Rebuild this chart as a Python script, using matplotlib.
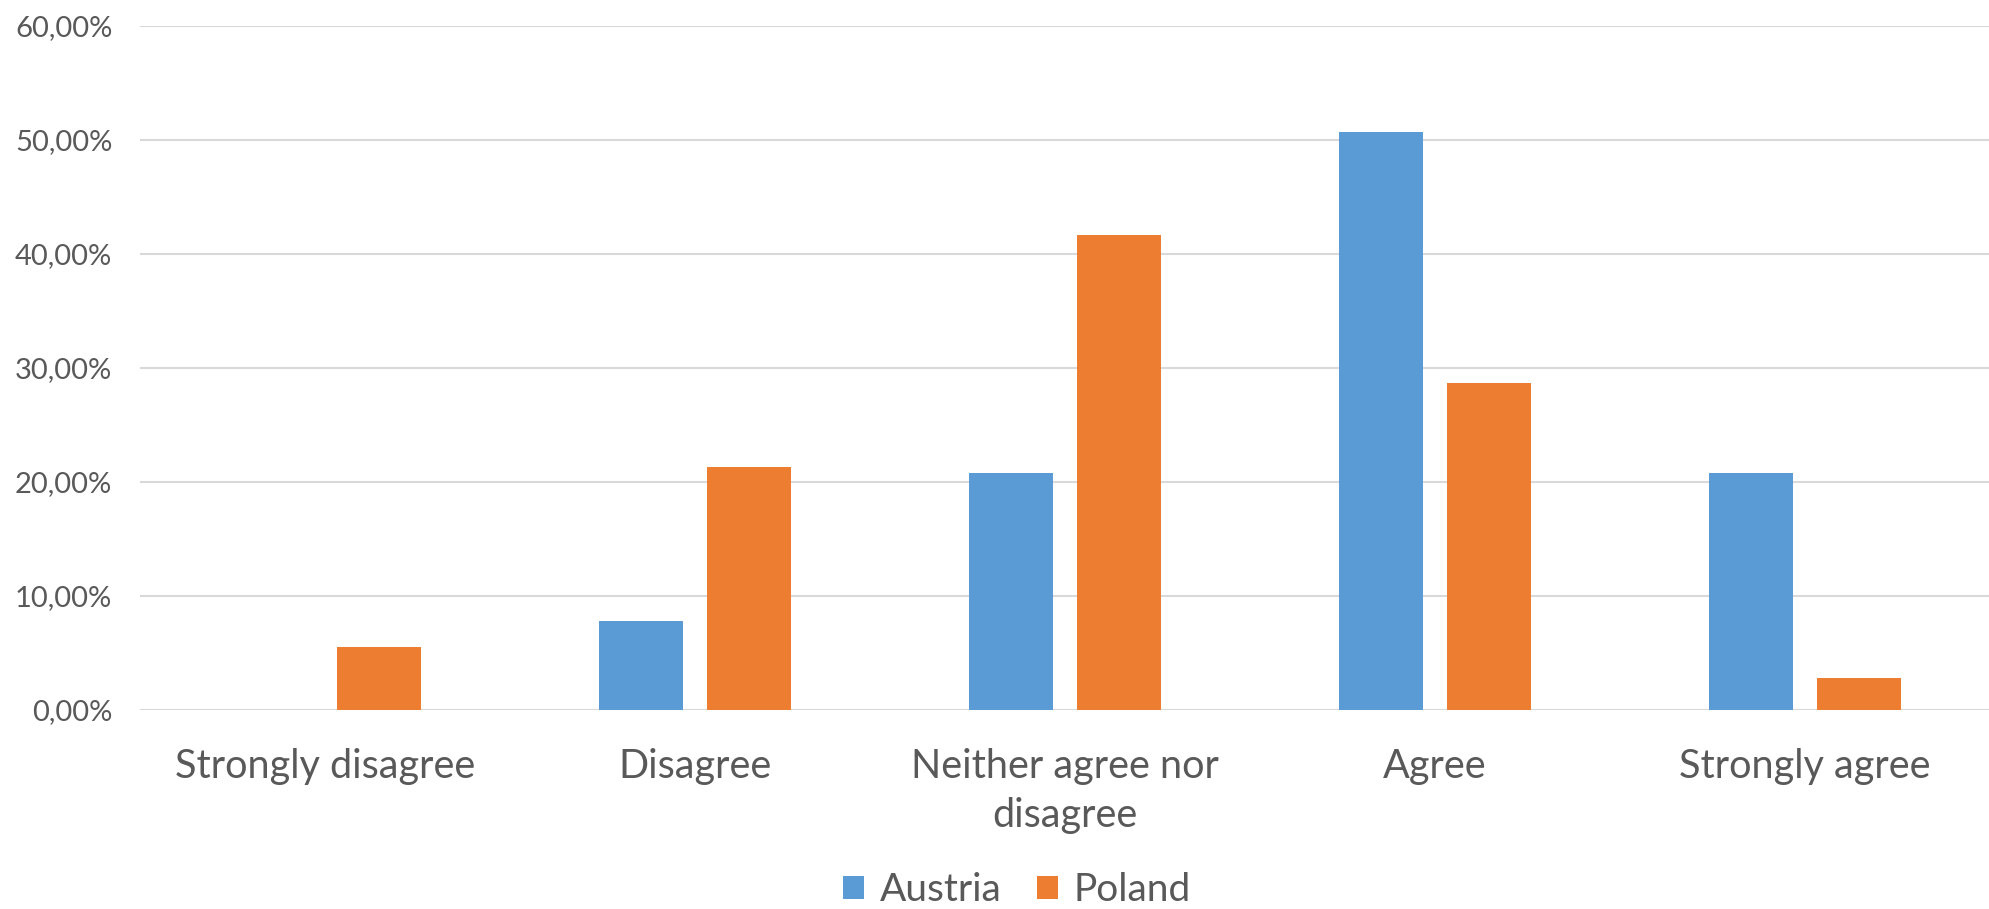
import numpy as np
import matplotlib.pyplot as plt
from matplotlib.ticker import FuncFormatter

# Datos
categories = ['Strongly disagree', 'Disagree', 'Neither agree nor\ndisagree', 'Agree', 'Strongly agree']
austria = [0.0, 7.79, 20.78, 50.65, 20.78]
poland = [5.56, 21.30, 41.67, 28.70, 2.78]
series_names = ['Austria', 'Poland']
colors = ['#5B9BD5', '#ED7D31']

plt.rcParams['font.family'] = ['Lato', 'DejaVu Sans']
text_color = '#595959'

fig = plt.figure(figsize=(19.9, 9.09), dpi=100)
ax = fig.add_axes([0.0704, 0.2189, 0.9296, 0.753])

x = np.arange(len(categories))
w = 0.227
off = 0.146
ax.bar(x - off, austria, w, color=colors[0], label=series_names[0], zorder=3)
ax.bar(x + off, poland, w, color=colors[1], label=series_names[1], zorder=3)

ax.set_xlim(-0.5, len(categories) - 0.5)
ax.set_ylim(0, 60)
ax.set_yticks(np.arange(0, 61, 10))
ax.yaxis.set_major_formatter(FuncFormatter(lambda v, p: f'{v:.2f}'.replace('.', ',') + '%'))
ax.grid(axis='y', color='#D9D9D9', linewidth=1.5, zorder=0)
ax.set_axisbelow(True)
for s in ax.spines.values():
    s.set_visible(False)

ax.set_xticks(x)
ax.set_xticklabels(categories, fontsize=28.5, color=text_color, linespacing=1.4)
ax.tick_params(axis='x', length=0, pad=27)
ax.tick_params(axis='y', length=0, pad=20, labelsize=21, labelcolor=text_color)

leg = ax.legend(loc='lower center', bbox_to_anchor=(0.474, -0.312), ncol=2, frameon=False,
                fontsize=28, handlelength=0.55, handleheight=0.55, handletextpad=0.4,
                columnspacing=0.9, borderaxespad=0)
for t in leg.get_texts():
    t.set_color(text_color)

plt.savefig('out.png', dpi=100)
